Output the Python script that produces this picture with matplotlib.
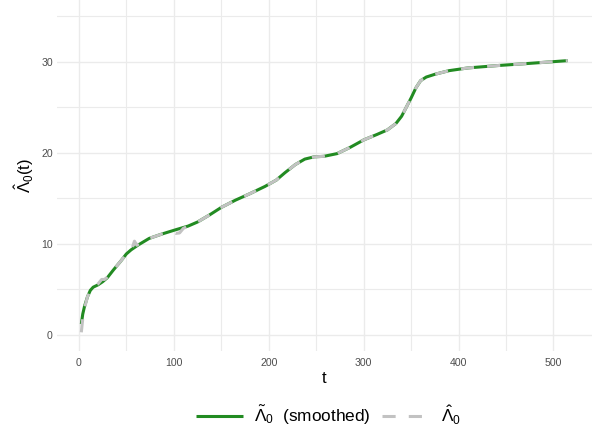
import matplotlib
matplotlib.use("Agg")
import matplotlib.pyplot as plt
from matplotlib.ticker import MultipleLocator

plt.rcParams['font.family'] = ['Liberation Sans', 'DejaVu Sans']
plt.rcParams['mathtext.fontset'] = 'custom'
plt.rcParams['mathtext.rm'] = 'Liberation Sans'
plt.rcParams['mathtext.it'] = 'Liberation Sans:italic'
plt.rcParams['mathtext.bf'] = 'Liberation Sans:bold'

# smoothed baseline cumulative hazard
t_smooth = [2.5, 4, 6, 9, 12, 15, 20, 25, 30, 36, 44, 50, 55, 62, 74, 88, 102, 115,
            125, 138, 150, 165, 180, 196, 208, 217, 228, 238, 248, 258, 272, 286,
            300, 314, 325, 334, 340, 345, 350, 355, 360, 366, 375, 390, 410, 440,
            475, 515]
lam_smooth = [1.2, 2.3, 3.2, 4.2, 4.9, 5.25, 5.5, 5.85, 6.3, 7.1, 8.1, 8.9, 9.35,
              9.85, 10.6, 11.1, 11.55, 11.95, 12.4, 13.2, 14.0, 14.8, 15.5, 16.3,
              17.0, 17.8, 18.7, 19.3, 19.55, 19.6, 19.9, 20.6, 21.4, 22.0, 22.5,
              23.2, 24.0, 25.0, 26.0, 27.1, 27.9, 28.3, 28.6, 29.0, 29.3, 29.55,
              29.8, 30.1]

# raw estimate
t_raw = [2.5, 4, 6, 9, 12, 15, 20, 24, 27, 30, 36, 44, 50, 56, 58.5, 61, 66, 74,
         88, 98, 102, 106, 110, 115, 125, 138, 150, 165, 180, 196, 208, 217, 228,
         238, 248, 258, 272, 286, 300, 314, 325, 334, 340, 345, 350, 355, 360,
         366, 375, 390, 410, 440, 475, 515]
lam_raw = [0.3, 1.8, 3.0, 4.2, 4.9, 5.3, 5.6, 6.1, 6.1, 6.35, 7.1, 8.1, 8.9, 9.5,
           10.3, 9.85, 10.2, 10.6, 11.1, 11.3, 11.15, 11.2, 11.7, 11.95, 12.4,
           13.2, 14.0, 14.8, 15.5, 16.3, 17.0, 17.8, 18.7, 19.3, 19.55, 19.6,
           19.9, 20.6, 21.4, 22.0, 22.5, 23.2, 24.0, 25.0, 26.0, 27.1, 27.9, 28.3,
           28.6, 29.0, 29.3, 29.55, 29.8, 30.1]

fig = plt.figure(figsize=(5.92, 4.38), dpi=100)
ax = fig.add_axes([57 / 592, 87 / 438, 535 / 592, 351 / 438])

ax.plot(t_smooth, lam_smooth, color='#228B22', lw=2.2, solid_capstyle='butt',
        label=r'$\tilde{\Lambda}_0$  (smoothed)')
ax.plot(t_raw, lam_raw, color='#c2c2c2', lw=2.2, linestyle=(0, (4.3, 4.3)),
        dash_capstyle='butt', label=r'$\hat{\Lambda}_0$')

span = max(t_smooth) - min(t_smooth)
ax.set_xlim(min(t_smooth) - 0.05 * span, max(t_smooth) + 0.05 * span)
ax.set_ylim(-1.75, 36.75)

ax.xaxis.set_major_locator(MultipleLocator(100))
ax.xaxis.set_minor_locator(MultipleLocator(50))
ax.yaxis.set_major_locator(MultipleLocator(10))
ax.yaxis.set_minor_locator(MultipleLocator(5))
ax.grid(which='major', color='#ebebeb', lw=1.0)
ax.grid(which='minor', color='#ebebeb', lw=0.8)
ax.set_axisbelow(True)
for s in ax.spines.values():
    s.set_visible(False)
ax.tick_params(which='both', length=0, labelsize=7.6, colors='#4d4d4d')
ax.tick_params(axis='x', pad=5)
ax.tick_params(axis='y', pad=3)

ax.set_xlabel('t', fontsize=12, labelpad=2)
ax.set_ylabel(r'$\hat{\Lambda}_0(\mathrm{t})$', fontsize=12, labelpad=4)

fig.legend(loc='center', bbox_to_anchor=(328 / 592, 1 - 415 / 438), ncol=2,
           frameon=False, fontsize=12.4, handlelength=2.75, columnspacing=0.65,
           handletextpad=0.65)

fig.savefig('out.png', dpi=100)
